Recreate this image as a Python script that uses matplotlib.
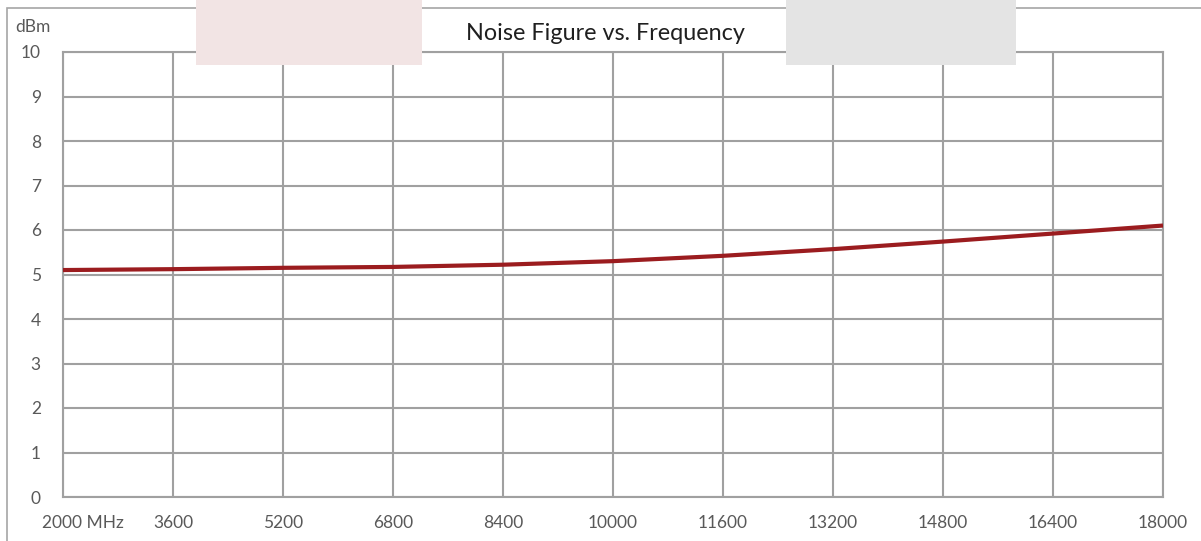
import matplotlib
matplotlib.use('Agg')
import matplotlib.pyplot as plt
import matplotlib.transforms as mtransforms
from matplotlib.patches import Rectangle

# data
freq = [2000, 3600, 5200, 6800, 8400, 10000, 11600, 13200, 14800, 16400, 18000]
nf_db = [5.10, 5.12, 5.15, 5.17, 5.22, 5.30, 5.42, 5.57, 5.74, 5.92, 6.10]
x_labels = ['2000 MHz', '3600', '5200', '6800', '8400', '10000', '11600', '13200', '14800', '16400', '18000']
y_ticks = [0, 1, 2, 3, 4, 5, 6, 7, 8, 9, 10]

plt.rcParams['font.family'] = ['Lato', 'DejaVu Sans']
W, H = 1201, 541
txt_col = '#595959'
grid_col = '#a0a0a0'

fig = plt.figure(figsize=(W / 100, H / 100), dpi=100)

# outer frame (only left/top visible in reference)
fig.patches.append(Rectangle((7 / W, -0.1), 1.2, (H - 8) / H + 0.1, transform=fig.transFigure,
                             fill=False, edgecolor='#a6a6a6', linewidth=1.2, zorder=0))
# two shaded boxes at top
fig.patches.append(Rectangle((196 / W, 1 - 65 / H), (422 - 196) / W, 65 / H, transform=fig.transFigure,
                             facecolor='#f2e4e4', edgecolor='none', zorder=0))
fig.patches.append(Rectangle((786 / W, 1 - 65 / H), (1016 - 786) / W, 65 / H, transform=fig.transFigure,
                             facecolor='#e4e4e4', edgecolor='none', zorder=0))

ax = fig.add_axes([63 / W, (H - 497) / H, 1100 / W, 445 / H])
ax.patch.set_alpha(0)
ax.plot(freq, nf_db, color='#9b1c1f', linewidth=3, solid_capstyle='butt', zorder=3)

ax.set_xlim(2000, 18000)
ax.set_ylim(0, 10)
ax.set_xticks(freq)
ax.set_xticklabels(x_labels)
ax.set_yticks(y_ticks)
ax.grid(True, color=grid_col, linewidth=1.5)
for s in ax.spines.values():
    s.set_color(grid_col)
    s.set_linewidth(1.5)
ax.tick_params(length=0, labelsize=12.5, labelcolor=txt_col)
ax.tick_params(axis='x', pad=13)
ax.tick_params(axis='y', pad=16)

# first label "2000 MHz": number centred on the tick, unit trailing
lab0 = ax.get_xticklabels()[0]
lab0.set_horizontalalignment('left')
lab0.set_transform(lab0.get_transform() + mtransforms.ScaledTranslation(-21 / 100, 0, fig.dpi_scale_trans))

fig.text(605 / W, 1 - 33 / H, 'Noise Figure vs. Frequency', ha='center', va='center',
         fontsize=16.8, color='#1f1f1f')
fig.text(15 / W, 1 - 27 / H, 'dBm', ha='left', va='center', fontsize=12.5, color=txt_col)

fig.savefig('out.png', dpi=100, facecolor='white')
